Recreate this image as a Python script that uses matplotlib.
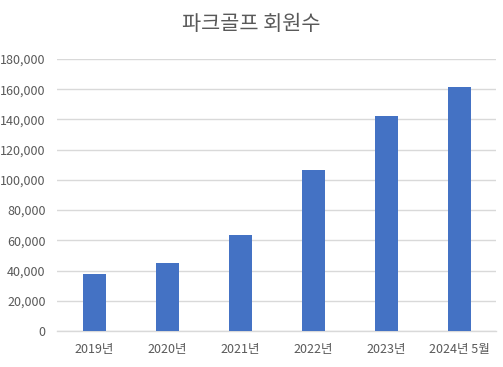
import matplotlib
matplotlib.use("Agg")
import matplotlib.pyplot as plt
from matplotlib.ticker import FuncFormatter, MultipleLocator

plt.rcParams['font.family'] = ['Noto Sans CJK KR', 'DejaVu Sans']

categories = ['2019년', '2020년', '2021년', '2022년', '2023년', '2024년 5월']
members = [37700, 44800, 63400, 106600, 142400, 161600]
y_ticks_max = 180000

fig = plt.figure(figsize=(5.03, 3.67), dpi=100)
ax = fig.add_axes([0.1143, 0.0981, 0.986 - 0.1143, 0.8392 - 0.0981])

x = range(len(categories))
ax.bar(x, members, width=0.315, color='#4472C4', zorder=3)

ax.set_xlim(-0.5, len(categories) - 0.5)
ax.set_ylim(0, y_ticks_max)
ax.yaxis.set_major_locator(MultipleLocator(20000))
ax.yaxis.set_major_formatter(FuncFormatter(lambda v, p: f"{int(v):,}"))
ax.set_xticks(list(x))
ax.set_xticklabels(categories)

ax.grid(axis='y', color='#D9D9D9', linewidth=1, zorder=0)
ax.set_axisbelow(True)
for s in ['top', 'right', 'left']:
    ax.spines[s].set_visible(False)
ax.spines['bottom'].set_color('#D9D9D9')
ax.spines['bottom'].set_linewidth(1)

ax.tick_params(axis='y', length=0, pad=8.5, labelsize=9, labelcolor='#595959')
ax.tick_params(axis='x', length=0, pad=8.5, labelsize=9, labelcolor='#595959')

fig.text(0.5, 0.935, '파크골프 회원수', ha='center', va='center', fontsize=15, color='#595959')

fig.savefig('out.png', dpi=100)
